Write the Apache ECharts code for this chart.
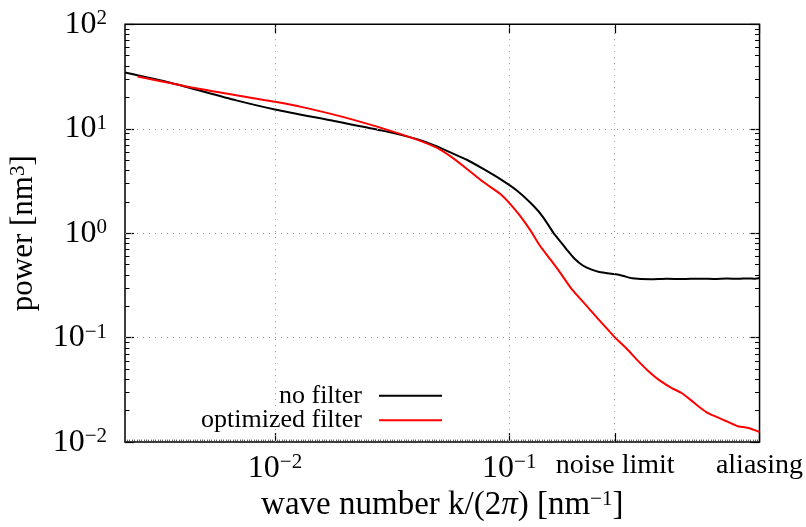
<!DOCTYPE html>
<html><head><meta charset="utf-8">
<script src="https://cdn.jsdelivr.net/npm/echarts@6/dist/echarts.min.js"></script>
<style>html,body{margin:0;padding:0;background:#fff}#c{width:806px;height:527px}</style>
</head><body><div id="c"></div>
<script>
// ---- data ----
const xNoFilter = [0.00229,0.00358,0.00684,0.0100,0.0181,0.0294,0.0407,0.0479,0.0564,0.0662,0.0778,0.0916,0.108,0.1268,0.1396,0.1538,0.1670,0.1755,0.190,0.206,0.2234,0.242,0.285,0.304,0.335,0.40,0.47,0.55,0.65,0.75,0.85,0.95,1.05,1.12,1.17];
const yNoFilter = [34.6,27.6,18.7,15.3,11.8,9.49,7.91,6.93,5.90,5.02,4.10,3.29,2.55,1.83,1.42,1.02,0.808,0.700,0.569,0.491,0.450,0.426,0.404,0.392,0.370,0.362,0.366,0.364,0.367,0.365,0.368,0.366,0.369,0.366,0.372];
const xOptimized = [0.00259,0.00495,0.0100,0.0131,0.0213,0.0347,0.0479,0.0564,0.0662,0.0778,0.0916,0.101,0.111,0.1227,0.135,0.149,0.164,0.184,0.213,0.242,0.267,0.285,0.3142,0.357,0.394,0.435,0.494,0.544,0.592,0.641,0.695,0.754,0.858,0.946,1.04,1.17];
const yOptimized = [31.7,23.7,18.1,16.1,12.3,8.83,6.74,5.41,4.10,3.07,2.37,1.90,1.47,1.075,0.762,0.569,0.426,0.295,0.204,0.147,0.1156,0.0984,0.0800,0.0590,0.0474,0.0394,0.0329,0.0295,0.0255,0.0220,0.0193,0.0177,0.0156,0.0142,0.0137,0.0125];
const seriesNames = ['no filter','optimized filter'];
const xRange = [0.00229, 1.17];
const yRange = [0.01, 100];
const xTickValues = [0.01, 0.1, 0.283, 1.169];
const xTickLabels = ['{n|10}{s|−2}', '{n|10}{s|−1}', '{t|noise limit}', '{t|aliasing}'];
const xGridValues = [0.01, 0.1, 0.283];
const yTickValues = [0.01, 0.1, 1, 10, 100];
const yTickExponents = ['−2', '−1', '0', '1', '2'];
const yGridValues = [0.1, 1, 10];
const xTitle = 'wave number k/(2{i|π}) [nm{s|−1}]';
const yTitle = 'power [nm{s|3}]';

// ---- chart ----
const FONT = 'Liberation Serif';
function zip(xs, ys){ return xs.map((x,i)=>[x, ys[i]]); }
function nearestIdx(arr, v){
  let best=0, bd=Infinity;
  arr.forEach((a,i)=>{ const d=Math.abs(Math.log10(a)-Math.log10(v)); if(d<bd){bd=d;best=i;} });
  return best;
}
// decorative dense minor ticks on the bottom axis
const denseTicks = [];
for (let k = Math.ceil(Math.log10(xRange[0])*100); k <= Math.floor(Math.log10(xRange[1])*100); k++) denseTicks.push(Math.pow(10, k/100));

const richNum = {
  n: {fontFamily: FONT, fontSize: 32, color: '#000'},
  s: {fontFamily: FONT, fontSize: 21, color: '#000', verticalAlign: 'top'},
  t: {fontFamily: FONT, fontSize: 28, color: '#000'}
};
const richTitle = {
  s: {fontFamily: FONT, fontSize: 21, color: '#000', verticalAlign: 'top'},
  i: {fontFamily: FONT, fontSize: 33, fontStyle: 'italic', color: '#000'}
};

const grid = {left: 120.7, right: 44, top: 24.3, bottom: 82.7, show: true, borderColor: '#000', borderWidth: 1.5, backgroundColor: 'transparent'};
const baseX = {type: 'log', logBase: 10, min: xRange[0], max: xRange[1], gridIndex: 0,
  axisLine: {show: false, onZero: false}, splitLine: {show: false}};
const baseY = {type: 'log', logBase: 10, min: yRange[0], max: yRange[1], gridIndex: 0,
  axisLine: {show: false, onZero: false}, splitLine: {show: false}};
const legendCommon = {right: 363, orient: 'vertical', align: 'right', padding: 0,
  itemWidth: 63, itemHeight: 30, selectedMode: false,
  itemStyle: {opacity: 0, borderWidth: 0},
  textStyle: {fontFamily: FONT, fontSize: 26, color: '#000', padding: [0, 12, 0, 0]}};

const option = {
  animation: false,
  backgroundColor: '#fff',
  grid: grid,
  xAxis: [
    Object.assign({}, baseX, {position: 'bottom',
      name: xTitle, nameLocation: 'middle', nameGap: 46,
      nameTextStyle: {fontFamily: FONT, fontSize: 33, color: '#000', rich: richTitle},
      axisTick: {show: true, inside: true, length: 9, customValues: xTickValues, lineStyle: {color: '#000', width: 1.2}},
      axisLabel: {show: true, customValues: xTickValues, margin: 10, color: '#000',
        formatter: (v) => xTickLabels[nearestIdx(xTickValues, v)], rich: richNum}}),
    Object.assign({}, baseX, {position: 'top',
      axisTick: {show: true, inside: true, length: 9, customValues: xTickValues, lineStyle: {color: '#000', width: 1.2}},
      axisLabel: {show: false}}),
    Object.assign({}, baseX, {position: 'bottom',
      axisTick: {show: true, inside: true, length: 2.5, customValues: denseTicks, lineStyle: {color: '#333', width: 0.8}},
      axisLabel: {show: false}})
  ],
  yAxis: [
    Object.assign({}, baseY, {position: 'left',
      name: yTitle, nameLocation: 'middle', nameGap: 86, nameRotate: 90,
      nameTextStyle: {fontFamily: FONT, fontSize: 31, color: '#000', rich: richTitle},
      axisTick: {show: true, inside: true, length: 9, lineStyle: {color: '#000', width: 1.2}},
      minorTick: {show: true, splitNumber: 9, length: 4.5, lineStyle: {color: '#000', width: 1}},
      axisLabel: {show: true, margin: 18, color: '#000',
        formatter: (v) => '{n|10}{s|' + yTickExponents[nearestIdx(yTickValues, v)] + '}', rich: richNum}}),
    Object.assign({}, baseY, {position: 'right',
      axisTick: {show: true, inside: true, length: 9, lineStyle: {color: '#000', width: 1.2}},
      minorTick: {show: true, splitNumber: 9, length: 4.5, lineStyle: {color: '#000', width: 1}},
      axisLabel: {show: false}})
  ],
  legend: [
    Object.assign({}, legendCommon, {data: [seriesNames[0]], top: 382.7}),
    Object.assign({}, legendCommon, {data: [seriesNames[1]], top: 407.3})
  ],
  series: [
    {name: seriesNames[0], type: 'line', xAxisIndex: 0, yAxisIndex: 0, data: zip(xNoFilter, yNoFilter),
      symbol: 'none', smooth: 0.25, lineStyle: {color: '#000', width: 2}, itemStyle: {color: '#000'},
      markLine: {silent: true, symbol: ['none','none'], label: {show: false},
        lineStyle: {type: [1, 5], color: '#999', width: 1},
        data: xGridValues.map(v => ({xAxis: v})).concat(yGridValues.map(v => ({yAxis: v})))}},
    {name: seriesNames[1], type: 'line', xAxisIndex: 0, yAxisIndex: 0, data: zip(xOptimized, yOptimized),
      symbol: 'none', smooth: 0.25, lineStyle: {color: '#ff0000', width: 2}, itemStyle: {color: '#ff0000'}}
  ]
};
const chart = echarts.init(document.getElementById('c'), null, {renderer: 'canvas'});
chart.setOption(option);
</script>
</body></html>
